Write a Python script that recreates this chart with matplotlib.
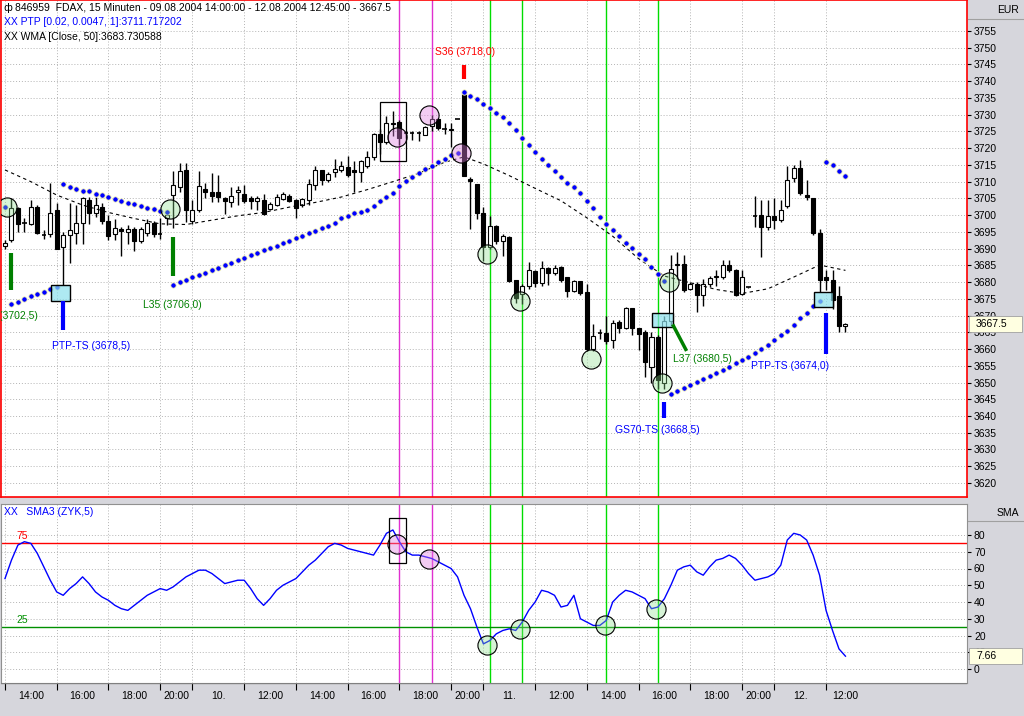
import matplotlib
matplotlib.use('Agg')
import matplotlib.pyplot as plt
import matplotlib.transforms as mtrans
from matplotlib.patches import Rectangle

plt.rcParams['font.family'] = ['Liberation Sans', 'DejaVu Sans']
plt.rcParams['font.size'] = 7.5

# ---------------- data (15-minute FDAX bars, bar index 0 = 09.08.2004 14:00) ----------------
opens = [3690.8, 3692.5, 3702.0, 3698.0, 3697.5, 3702.5, 3694.0, 3694.5, 3701.5, 3690.5,
         3694.0, 3694.7, 3697.7, 3704.5, 3700.7, 3702.3, 3698.3, 3694.5, 3696.0, 3695.0,
         3696.0, 3692.4, 3694.7, 3697.7, 3694.5, 3699.0, 3706.0, 3708.5, 3713.5, 3698.3,
         3701.4, 3707.9, 3707.0, 3707.0, 3705.2, 3704.0, 3707.0, 3706.4, 3705.0, 3704.2,
         3704.4, 3701.9, 3703.0, 3704.7, 3705.8, 3704.4, 3702.9, 3704.4, 3708.9, 3713.4,
         3710.4, 3712.9, 3713.6, 3714.4, 3713.4, 3712.9, 3714.6, 3717.4, 3724.2, 3721.9,
         3727.6, 3727.9, 3724.2, 3724.6, 3724.6, 3724.0, 3726.6, 3728.6, 3725.7, 3725.7,
         3728.7, 3736.4, 3710.9, 3709.4, 3700.6, 3690.4, 3696.7, 3692.2, 3693.4, 3680.6,
         3676.4, 3678.9, 3683.2, 3679.6, 3684.2, 3682.6, 3684.4, 3681.4, 3677.4, 3680.4,
         3676.9, 3659.9, 3664.7, 3664.9, 3662.6, 3668.2, 3666.4, 3672.4, 3666.4, 3665.1,
         3654.5, 3663.7, 3650.0, 3668.5, 3685.0, 3685.5, 3678.0, 3679.5, 3676.2, 3679.3,
         3681.5, 3681.5, 3685.2, 3683.6, 3676.4, 3678.4, 3699.6, 3700.0, 3696.4, 3699.6,
         3698.6, 3702.6, 3711.0, 3714.0, 3706.0, 3705.0, 3694.8, 3681.5, 3680.5, 3675.7,
         3666.9]
highs = [3692.7, 3705.0, 3702.5, 3699.0, 3704.5, 3703.0, 3695.5, 3709.5, 3703.5, 3695.0,
         3703.7, 3703.0, 3705.5, 3705.5, 3705.5, 3703.5, 3700.0, 3698.7, 3696.4, 3697.0,
         3696.4, 3696.6, 3698.7, 3698.3, 3699.0, 3701.0, 3713.3, 3715.5, 3715.7, 3704.5,
         3713.3, 3709.5, 3712.5, 3712.0, 3705.5, 3708.4, 3708.6, 3709.0, 3705.6, 3705.6,
         3706.4, 3703.9, 3706.4, 3706.9, 3706.4, 3704.9, 3705.2, 3710.9, 3714.6, 3713.6,
         3712.9, 3716.9, 3716.2, 3717.6, 3716.2, 3716.4, 3719.2, 3724.6, 3725.6, 3729.6,
         3731.2, 3728.5, 3725.0, 3725.2, 3725.2, 3726.6, 3730.0, 3729.0, 3727.6, 3727.6,
         3728.7, 3737.4, 3711.4, 3709.4, 3702.4, 3699.6, 3697.0, 3694.4, 3693.9, 3680.6,
         3679.4, 3685.9, 3683.6, 3686.4, 3684.6, 3685.2, 3684.9, 3681.4, 3680.6, 3680.4,
         3679.4, 3667.4, 3665.9, 3669.9, 3668.6, 3668.6, 3672.6, 3672.4, 3666.4, 3665.6,
         3665.0, 3664.3, 3670.0, 3688.0, 3689.0, 3688.0, 3680.0, 3680.0, 3681.0, 3681.8,
         3683.5, 3686.6, 3686.6, 3684.0, 3683.6, 3678.6, 3705.6, 3704.5, 3704.5, 3705.0,
         3704.5, 3714.7, 3715.0, 3716.5, 3710.5, 3705.0, 3696.0, 3683.5, 3683.5, 3678.7,
         3667.8]
lows = [3690.0, 3692.0, 3695.0, 3695.0, 3697.0, 3694.5, 3693.0, 3693.5, 3690.0, 3679.0,
        3685.7, 3691.5, 3691.5, 3697.4, 3699.5, 3697.4, 3692.5, 3692.5, 3687.8, 3691.5,
        3689.4, 3691.8, 3693.7, 3693.4, 3693.0, 3697.0, 3696.3, 3707.0, 3698.0, 3697.4,
        3701.0, 3705.0, 3704.0, 3704.0, 3700.4, 3702.4, 3703.0, 3703.5, 3701.9, 3701.4,
        3700.0, 3701.4, 3702.7, 3704.4, 3703.9, 3699.2, 3702.4, 3702.9, 3707.4, 3708.9,
        3709.9, 3711.4, 3712.9, 3711.4, 3706.9, 3709.9, 3714.0, 3716.4, 3718.2, 3721.2,
        3723.6, 3721.0, 3723.0, 3722.4, 3722.0, 3723.8, 3725.0, 3725.5, 3724.2, 3720.4,
        3728.7, 3711.6, 3695.9, 3698.9, 3686.4, 3690.0, 3691.5, 3687.9, 3680.0, 3673.9,
        3673.4, 3677.9, 3678.4, 3678.9, 3679.2, 3682.0, 3680.0, 3675.6, 3677.0, 3676.2,
        3659.5, 3659.4, 3662.9, 3661.6, 3660.4, 3664.9, 3666.0, 3664.2, 3659.6, 3651.6,
        3650.0, 3648.0, 3648.0, 3667.0, 3681.0, 3677.0, 3677.5, 3671.0, 3673.0, 3678.5,
        3678.7, 3681.0, 3683.0, 3675.7, 3676.0, 3678.2, 3696.6, 3687.6, 3695.6, 3696.0,
        3698.0, 3702.0, 3710.0, 3706.0, 3704.5, 3694.0, 3677.0, 3677.6, 3672.0, 3665.2,
        3665.2]
closes = [3691.8, 3702.0, 3697.5, 3697.8, 3702.3, 3694.7, 3694.0, 3700.7, 3690.0, 3694.0,
          3695.5, 3697.7, 3705.0, 3700.7, 3703.0, 3698.3, 3693.7, 3696.3, 3695.3, 3696.0,
          3692.4, 3695.8, 3697.7, 3694.5, 3694.3, 3700.0, 3709.0, 3713.3, 3701.5, 3701.5,
          3708.7, 3707.0, 3705.6, 3705.4, 3704.2, 3705.8, 3707.5, 3704.2, 3704.2, 3705.1,
          3700.4, 3703.4, 3705.4, 3706.2, 3704.2, 3702.2, 3704.8, 3709.2, 3713.4, 3710.4,
          3712.4, 3713.9, 3714.6, 3711.9, 3712.9, 3716.1, 3717.4, 3724.2, 3721.9, 3727.4,
          3727.1, 3722.9, 3724.4, 3724.6, 3724.6, 3726.4, 3728.6, 3725.9, 3725.7, 3725.4,
          3728.7, 3711.6, 3710.1, 3700.6, 3690.4, 3696.7, 3692.2, 3693.9, 3680.4, 3675.4,
          3678.9, 3683.6, 3679.6, 3684.2, 3682.6, 3684.2, 3680.6, 3677.2, 3680.4, 3676.6,
          3659.9, 3663.9, 3664.7, 3662.4, 3667.7, 3666.4, 3672.2, 3666.2, 3664.6, 3656.1,
          3663.7, 3650.8, 3668.5, 3684.0, 3685.3, 3677.5, 3679.5, 3676.2, 3679.5, 3681.2,
          3681.8, 3685.2, 3683.7, 3676.2, 3681.6, 3678.4, 3699.6, 3696.4, 3699.6, 3698.6,
          3701.6, 3710.5, 3714.0, 3706.6, 3705.3, 3694.8, 3680.7, 3680.7, 3674.7, 3667.0,
          3667.5]

# PTP trailing stop (one dot per bar)
ptp = [3702.5,
       3673.5, 3674.2, 3675.0, 3675.7, 3676.4, 3677.1, 3677.8, 3678.5,
       3709.2, 3708.5, 3707.8, 3707.3, 3707.1, 3706.4, 3705.9, 3705.4, 3704.7, 3704.3,
       3703.6, 3703.2, 3702.7, 3702.2, 3701.7, 3701.3, 3701.0,
       3679.1, 3679.9, 3680.6, 3681.4, 3682.1, 3682.8, 3683.6, 3684.3, 3685.0, 3685.8,
       3686.5, 3687.2, 3688.0, 3688.7, 3689.5, 3690.2, 3690.9, 3691.7, 3692.4, 3693.2,
       3693.9, 3694.6, 3695.4, 3696.1, 3696.9, 3697.6, 3699.0, 3699.7, 3700.5, 3700.9,
       3701.6, 3702.8, 3704.1, 3705.4, 3706.6, 3708.8, 3710.1, 3711.4, 3712.6, 3713.8,
       3714.8, 3715.9, 3716.9, 3718.1, 3718.6,
       3736.9, 3735.7, 3734.7, 3733.2, 3732.1, 3730.6, 3729.2, 3727.6, 3725.4, 3723.1,
       3721.0, 3719.0, 3716.7, 3715.0, 3713.3, 3711.3, 3709.5, 3708.3, 3706.5, 3704.3,
       3702.0, 3699.5, 3697.4, 3695.6, 3693.8, 3691.6, 3690.3, 3688.3, 3686.8, 3684.6,
       3682.4, 3680.4,
       3646.6, 3647.6, 3648.4, 3649.3, 3650.1, 3651.0, 3652.0, 3652.9, 3653.7, 3654.7,
       3655.7, 3656.7, 3657.7, 3658.7, 3659.9, 3661.2, 3662.7, 3664.1, 3665.5, 3667.2,
       3669.2, 3670.9, 3672.9, 3674.4,
       3716.0, 3715.0, 3713.3, 3711.7]

# WMA[Close,50] read at sample bars
wma_bars = [0, 4, 8, 12, 16, 20, 24, 28, 32, 36, 40, 44, 48, 52, 56, 60, 64, 68, 71,
            74, 78, 82, 86, 90, 94, 98, 102, 106, 110, 114, 118, 122, 126, 130]
wma_vals = [3713.5, 3710.0, 3706.0, 3703.0, 3700.8, 3699.0, 3697.4, 3697.2, 3698.5,
            3699.8, 3700.8, 3702.4, 3703.8, 3705.4, 3707.6, 3710.0, 3712.5, 3715.8, 3717.4,
            3715.3, 3711.8, 3708.0, 3704.3, 3699.2, 3693.7, 3687.0, 3681.8, 3679.8, 3677.8,
            3676.6, 3678.0, 3681.5, 3685.1, 3683.5]

# SMA3 (ZYK,5) oscillator, one value per bar
sma3 = [54, 65, 74, 76, 75, 69, 61, 53, 46, 44, 48, 51, 55, 51, 46, 43, 41, 38, 36, 35,
        38, 41, 44, 46, 48, 47, 49, 52, 55, 57, 59, 59, 57, 54, 51, 52, 53, 53, 48, 42,
        38, 42, 47, 50, 52, 54, 58, 62, 65, 69, 73, 75, 74, 72, 71, 70, 69, 68, 74, 81,
        83, 76, 70, 68, 68, 67, 66, 64, 62, 60, 55, 44, 36, 25, 15, 17, 21, 23, 24, 23,
        28, 35, 40, 47, 46, 44, 37, 38, 44, 30, 28, 26, 26, 29, 40, 44, 47, 46, 44, 42,
        36, 37, 42, 50, 59, 61, 62, 58, 56, 61, 65, 66, 68, 66, 62, 57, 53, 54, 55, 57,
        62, 77, 81, 80, 77, 68, 56, 35, 23, 12, 7.66]

time_tick_bars = [0, 8, 16, 24, 29, 37, 45, 53, 61, 69, 74, 82, 90, 98, 106, 114, 119, 127]
time_tick_labels = ['14:00', '16:00', '18:00', '20:00', '10.', '12:00', '14:00', '16:00',
                    '18:00', '20:00', '11.', '12:00', '14:00', '16:00', '18:00', '20:00',
                    '12.', '12:00']
price_ticks = list(range(3620, 3760, 5))
sma_ticks = list(range(0, 90, 10))
green_vlines = [75, 80, 93, 101]
magenta_vlines = [61, 66]
sma_upper, sma_lower = 75, 25

# signal markers: (bar, top, bottom, colour)
signal_bars = [(1, 3688.7, 3677.6, '#008000'), (26, 3693.5, 3681.8, '#008000'),
               (9, 3674.4, 3665.7, '#0000ff'), (102, 3644.3, 3639.3, '#0000ff'),
               (127, 3670.9, 3658.5, '#0000ff'), (71, 3744.8, 3740.7, '#ff0000')]
# signal labels: (bar, price, text, colour, ha)
signal_labels = [(5.1, 3669.9, 'L34 (3702,5)', '#008000', 'right'),
                 (25.9, 3673.2, 'L35 (3706,0)', '#008000', 'center'),
                 (13.3, 3660.9, 'PTP-TS (3678,5)', '#0000ff', 'center'),
                 (71.2, 3748.7, 'S36 (3718,0)', '#ff0000', 'center'),
                 (103.3, 3657.0, 'L37 (3680,5)', '#008000', 'left'),
                 (100.9, 3635.8, 'GS70-TS (3668,5)', '#0000ff', 'center'),
                 (121.4, 3654.9, 'PTP-TS (3674,0)', '#0000ff', 'center')]
green_circles_main = [(0.3, 3702.4), (25.5, 3701.8), (74.6, 3688.4), (79.7, 3674.4),
                      (90.6, 3657.0), (101.6, 3649.9), (102.7, 3680.0)]
pink_circles_main = [(60.6, 3723.2), (65.6, 3729.9), (70.5, 3718.7)]
green_circles_sma = [(74.6, 14.3), (79.7, 23.9), (92.8, 26.3), (100.7, 35.8)]
pink_circles_sma = [(60.6, 74.6), (65.6, 65.7)]
cyan_boxes = [(7.1, 10.1, 3674.5, 3679.2), (100.1, 103.3, 3666.5, 3670.9),
              (125.2, 128.1, 3672.6, 3676.9)]
frame_main = (58.0, 62.1, 3716.2, 3733.7)
frame_sma = (59.4, 62.0, 63.3, 90.1)
l37_line = ([103.4, 105.3], [3666.9, 3659.9])

# ---------------- layout ----------------
W, H = 1024, 716
BG = '#d6d6dc'
fig = plt.figure(figsize=(W / 100, H / 100), dpi=100, facecolor=BG)


def box(x0, y0, x1, y1):
    return [x0 / W, 1 - y1 / H, (x1 - x0) / W, (y1 - y0) / H]


X0, DX = 5.0, 6.465          # pixel of bar 0, pixels per bar
def px2bar(px):
    return (px - X0) / DX

def py2price(py):
    return 3755 - (py - 31) / 3.348

def py2sma(py):
    return (669 - py) / 1.675

ax = fig.add_axes(box(1, 0, 967, 497))
ax2 = fig.add_axes(box(1, 504, 967, 683))
ax3 = fig.add_axes(box(1, 683, 967, 705))

xl = (px2bar(1), px2bar(967))
for a in (ax, ax2, ax3):
    a.set_xlim(*xl)
ax.set_ylim(py2price(497), py2price(0))
ax2.set_ylim(py2sma(683), py2sma(504))
ax3.set_ylim(0, 1)

grid_kw = dict(color='#b4b4b4', lw=0.7, ls=(0, (1, 2)), zorder=0)
for a, yt in ((ax, price_ticks), (ax2, sma_ticks)):
    a.set_facecolor('white')
    for y in yt:
        a.axhline(y, **grid_kw)
    for b in time_tick_bars:
        a.axvline(b, **grid_kw)
    a.yaxis.tick_right()
    a.set_yticks(yt)
    a.tick_params(axis='y', direction='out', length=3, pad=2, labelsize=7.5,
                  colors='black')
    a.set_xticks([])
    for v in green_vlines:
        a.axvline(v, color='#00dd00', lw=1.0, zorder=1)
    for v in magenta_vlines:
        a.axvline(v, color='#e030d0', lw=1.0, zorder=1)

for s in ax.spines.values():
    s.set_color('#ff0000')
    s.set_linewidth(1.2)
for s in ax2.spines.values():
    s.set_color('#909090')
    s.set_linewidth(0.8)

# candles
for i, (o, h, l, c) in enumerate(zip(opens, highs, lows, closes)):
    ax.vlines(i, l, h, color='black', lw=1.0, zorder=3)
    if abs(c - o) < 0.25:
        ax.hlines(c, i - 0.33, i + 0.33, color='black', lw=1.2, zorder=4)
    else:
        ax.add_patch(Rectangle((i - 0.31, min(o, c)), 0.62, abs(c - o),
                               facecolor='white' if c > o else 'black',
                               edgecolor='black', lw=0.8, zorder=4))

# WMA dashed
ax.plot(wma_bars, wma_vals, color='black', lw=0.8, ls=(0, (3, 3)), zorder=5)

# PTP dots
ax.scatter(range(len(ptp)), ptp, s=15, c='#0000ff', edgecolors='#ffffb8',
           linewidths=0.6, zorder=6)

# circles
g_face = (0.55, 0.87, 0.55, 0.35)
p_face = (0.88, 0.50, 0.88, 0.40)
for a, pts, fc in ((ax, green_circles_main, g_face), (ax, pink_circles_main, p_face),
                   (ax2, green_circles_sma, g_face), (ax2, pink_circles_sma, p_face)):
    xs = [p[0] for p in pts]
    ys = [p[1] for p in pts]
    a.scatter(xs, ys, s=190, facecolors=[fc], edgecolors='black', linewidths=0.8,
              zorder=7)

for (b0, b1, p0, p1) in cyan_boxes:
    ax.add_patch(Rectangle((b0, p0), b1 - b0, p1 - p0, facecolor=(0.55, 0.88, 0.93, 0.7),
                           edgecolor='black', lw=1.0, zorder=7))
b0, b1, p0, p1 = frame_main
ax.add_patch(Rectangle((b0, p0), b1 - b0, p1 - p0, fill=False, edgecolor='black',
                       lw=0.9, zorder=7))
b0, b1, p0, p1 = frame_sma
ax2.add_patch(Rectangle((b0, p0), b1 - b0, p1 - p0, fill=False, edgecolor='black',
                        lw=0.9, zorder=7))

for (b, top, bot, col) in signal_bars:
    ax.vlines(b, bot, top, color=col, lw=3, zorder=8)
ax.plot(l37_line[0], l37_line[1], color='#008000', lw=2.5, zorder=8)
for (b, p, t, col, ha) in signal_labels:
    ax.text(b, p, t, color=col, ha=ha, va='center', fontsize=7.5, zorder=9, clip_on=True)

# SMA3 line and levels
ax2.plot(range(len(sma3)), sma3, color='#0000ff', lw=1.0, zorder=5)
ax2.axhline(sma_upper, color='#ff0000', lw=1.0, zorder=2)
ax2.axhline(sma_lower, color='#009000', lw=1.0, zorder=2)
ax2.text(px2bar(22), sma_upper + 4.5, '75', color='#ff0000', fontsize=7.5, ha='center',
         va='center')
ax2.text(px2bar(22), sma_lower + 4.5, '25', color='#009000', fontsize=7.5, ha='center',
         va='center')

# current-value boxes on the right scale
def value_box(a, val, txt, half_h):
    tr = mtrans.blended_transform_factory(fig.transFigure, a.transData)
    a.add_patch(Rectangle((969 / W, val - half_h), 53 / W, 2 * half_h, transform=tr,
                          facecolor='#ffffe1', edgecolor='#a0a0a0', lw=0.6,
                          clip_on=False, zorder=10))
    a.text(976 / W, val, txt, transform=tr, fontsize=7.5, va='center', ha='left',
           clip_on=False, zorder=11)

value_box(ax, closes[-1], '%.1f' % closes[-1], 2.4)
value_box(ax2, sma3[-1], '%.2f' % sma3[-1], 4.8)

# time axis band
ax3.set_facecolor(BG)
for s in ax3.spines.values():
    s.set_visible(False)
ax3.set_yticks([])
ax3.set_xticks(time_tick_bars)
ax3.set_xticklabels([])
ax3.tick_params(axis='x', direction='in', length=5, top=True, bottom=False,
                color='black', width=0.8)
ax3.axhline(1, color='#808080', lw=1)
mids = [(time_tick_bars[k] + time_tick_bars[k + 1]) / 2 for k in range(len(time_tick_bars) - 1)]
mids.append(time_tick_bars[-1] + 3)
for m, lab in zip(mids, time_tick_labels):
    ax3.text(m, 0.42, lab, ha='center', va='center', fontsize=7.5)

# headers and legend texts
fig.text(1008 / W, 1 - 10 / H, 'EUR', ha='center', va='center', fontsize=7.5)
fig.text(1008 / W, 1 - 513 / H, 'SMA', ha='center', va='center', fontsize=7.5)
fig.add_artist(plt.Line2D([968 / W, 1], [1 - 19 / H, 1 - 19 / H], color='#a0a0a0', lw=0.8))
fig.add_artist(plt.Line2D([968 / W, 1], [1 - 521 / H, 1 - 521 / H], color='#a0a0a0', lw=0.8))
fig.text(3 / W, 1 - 8 / H, '\u0444', fontsize=7.5, va='center', family='DejaVu Sans')
fig.text(15 / W, 1 - 8 / H,
         '846959  FDAX, 15 Minuten - 09.08.2004 14:00:00 - 12.08.2004 12:45:00 - 3667.5',
         fontsize=7.5, va='center')
fig.text(4 / W, 1 - 22 / H, 'XX PTP [0.02, 0.0047, 1]:3711.717202', color='#0000ff',
         fontsize=7.5, va='center')
fig.text(4 / W, 1 - 37 / H, 'XX WMA [Close, 50]:3683.730588', fontsize=7.5, va='center')
fig.text(4 / W, 1 - 512 / H, 'XX   SMA3 (ZYK,5)', color='#0000ff', fontsize=7.5,
         va='center')

fig.savefig('out.png', dpi=100, facecolor=BG)
